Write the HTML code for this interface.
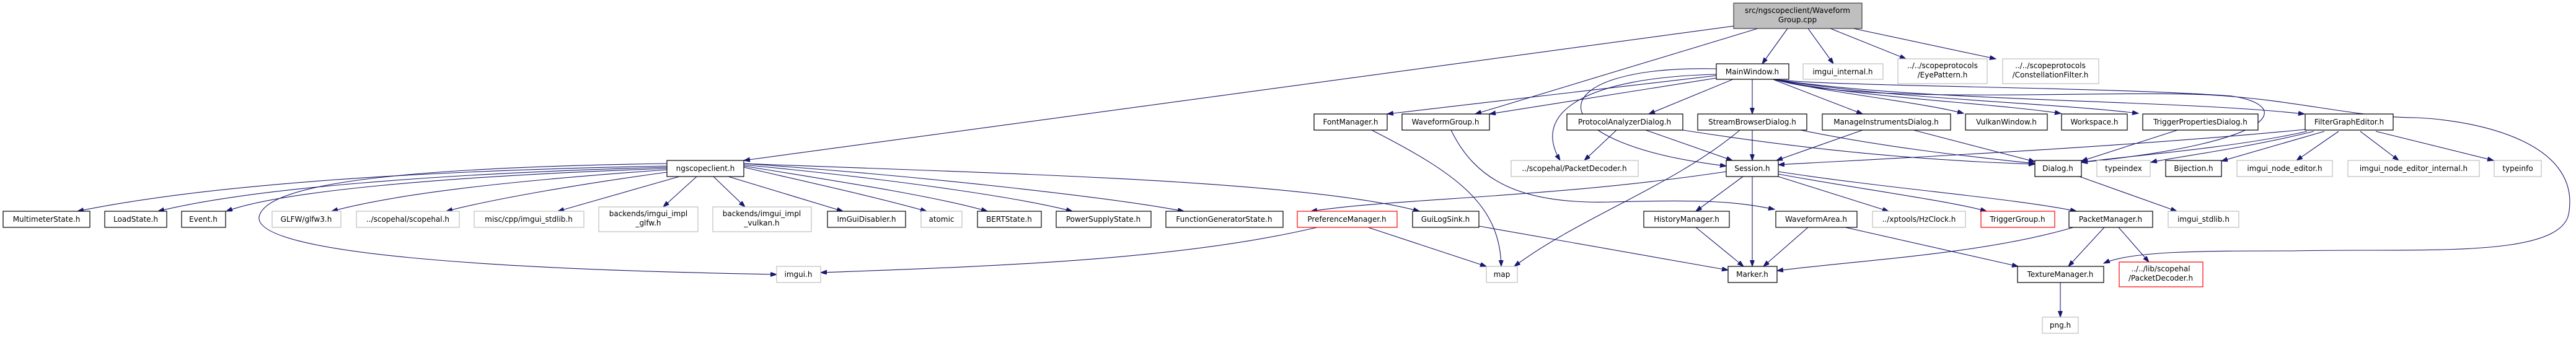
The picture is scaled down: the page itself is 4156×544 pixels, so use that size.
<!DOCTYPE html>
<html><head><meta charset="utf-8"><style>
html,body{margin:0;padding:0;background:#fff;}
svg{display:block;}
text{font-family:"DejaVu Sans","Liberation Sans",sans-serif;font-size:12px;fill:#000;text-anchor:middle;}
.n rect{fill:#fff;stroke:#000;stroke-width:1.2;}
.g rect{fill:#fff;stroke:#bfbfbf;stroke-width:1.2;}
.r rect{fill:#fff;stroke:#ff0000;stroke-width:1.2;}
.e path{fill:none;stroke:#191970;stroke-width:1.1;marker-end:url(#a);}
</style></head><body>
<svg width="4156" height="544" viewBox="0 0 4156 544" xmlns="http://www.w3.org/2000/svg">
<defs><marker id="a" markerUnits="userSpaceOnUse" markerWidth="11" markerHeight="8" refX="10" refY="3.5" orient="auto"><path d="M0,0 L10,3.5 L0,7 z" fill="#191970" stroke="#191970"/></marker></defs>
<g class="e">
<path d="M2797,42 L1200,259"/>
<path d="M2836,46 L2380,184"/>
<path d="M2884,46 L2843,103"/>
<path d="M2917,46 L2958,103"/>
<path d="M2953,46 L3075,95"/>
<path d="M2990,46 L3220,95"/>
<path d="M2769,122 L2238,184"/>
<path d="M2769,126 L2403,184"/>
<path d="M2769,120 C2560,125 2470,180 2517,259"/>
<path d="M2769,111 C2480,105 2470,230 2785,268"/>
<path d="M2796,128 L2660,184"/>
<path d="M2827,128 L2827,184"/>
<path d="M2860,128 L3005,184"/>
<path d="M2862,128 C2950,150 3100,165 3168,183"/>
<path d="M2862,128 C3000,158 3200,165 3325,183"/>
<path d="M2862,128 C3050,160 3300,165 3450,183"/>
<path d="M2862,128 C3100,165 3500,160 3718,184"/>
<path d="M2862,128 C2950,140 3400,140 3600,155 C3700,170 3680,230 3358,262"/>
<path d="M2862,128 C3000,170 3400,145 3560,153 C3700,160 3800,190 3900,190 C4000,195 4160,230 4145,340 C4140,420 3900,400 3700,405 C3550,405 3440,405 3394,425"/>
<path d="M1076,268 C700,275 350,295 125,341"/>
<path d="M1076,270 C700,280 400,305 255,341"/>
<path d="M1076,272 C700,285 450,310 365,341"/>
<path d="M1076,274 C850,290 650,310 535,341"/>
<path d="M1076,278 C950,295 800,320 720,341"/>
<path d="M1096,285 L900,341"/>
<path d="M1124,285 L1070,334"/>
<path d="M1151,285 L1202,334"/>
<path d="M1175,285 L1360,341"/>
<path d="M1200,270 C1330,300 1420,320 1495,341"/>
<path d="M1200,268 C1400,300 1520,320 1593,341"/>
<path d="M1200,266 C1450,290 1650,320 1730,341"/>
<path d="M1200,264 C1500,285 1800,320 1910,341"/>
<path d="M1200,264 C1600,280 2100,290 2290,341"/>
<path d="M1076,264 C700,270 430,290 418,350 C410,410 800,435 1253,443"/>
<path d="M2125,367 C1900,420 1600,430 1324,440"/>
<path d="M2785,277 C2500,320 2250,320 2115,341"/>
<path d="M2812,285 L2736,341"/>
<path d="M2827,285 L2827,430"/>
<path d="M2869,285 L3047,341"/>
<path d="M2869,281 C3000,305 3150,325 3205,341"/>
<path d="M2869,277 C3050,305 3250,320 3350,341"/>
<path d="M2341,210 C2380,290 2450,330 2600,326 C2750,322 2800,325 2863,338"/>
<path d="M2213,210 C2350,280 2420,330 2422,430"/>
<path d="M2207,367 L2398,430"/>
<path d="M2807,210 C2700,300 2550,350 2443,430"/>
<path d="M2386,365 L2788,436"/>
<path d="M2736,367 L2813,430"/>
<path d="M2917,367 L2845,430"/>
<path d="M3345,367 C3200,410 3000,420 2867,437"/>
<path d="M2977,367 L3256,430"/>
<path d="M3395,367 L3337,430"/>
<path d="M3418,367 L3467,423"/>
<path d="M3324,456 L3324,512"/>
<path d="M2608,210 L2556,259"/>
<path d="M2655,210 L2795,259"/>
<path d="M2715,210 C3000,255 3200,262 3283,265"/>
<path d="M2827,210 L2827,259"/>
<path d="M2905,210 C3050,240 3200,255 3283,264"/>
<path d="M3005,210 L2866,259"/>
<path d="M3087,210 L3283,261"/>
<path d="M3513,210 L3358,260"/>
<path d="M3719,209 C3400,240 3000,258 2869,266"/>
<path d="M3722,212 C3600,240 3400,255 3358,262"/>
<path d="M3733,212 C3620,240 3500,255 3470,262"/>
<path d="M3750,212 L3584,260"/>
<path d="M3773,212 L3705,259"/>
<path d="M3808,212 L3870,259"/>
<path d="M3833,212 L4023,259"/>
<path d="M3355,285 L3512,341"/>
</g>
<g>
<rect x="2797" y="5" width="207" height="41" fill="#bfbfbf" stroke="#404040" stroke-width="1.2"/>
<text x="2900" y="21">src/ngscopeclient/Waveform</text><text x="2900" y="36">Group.cpp</text>
</g>
<g class="n">
<rect x="2769" y="103" width="117" height="25"/><text x="2827" y="120">MainWindow.h</text>
<rect x="1076" y="259" width="124" height="26"/><text x="1138" y="276">ngscopeclient.h</text>
<rect x="2120" y="184" width="118" height="26"/><text x="2179" y="201">FontManager.h</text>
<rect x="2262" y="184" width="141" height="26"/><text x="2332" y="201">WaveformGroup.h</text>
<rect x="2528" y="184" width="187" height="26"/><text x="2621" y="201">ProtocolAnalyzerDialog.h</text>
<rect x="2739" y="184" width="176" height="26"/><text x="2827" y="201">StreamBrowserDialog.h</text>
<rect x="2940" y="184" width="207" height="26"/><text x="3043" y="201">ManageInstrumentsDialog.h</text>
<rect x="3171" y="184" width="132" height="26"/><text x="3237" y="201">VulkanWindow.h</text>
<rect x="3326" y="184" width="106" height="26"/><text x="3379" y="201">Workspace.h</text>
<rect x="3457" y="184" width="186" height="26"/><text x="3550" y="201">TriggerPropertiesDialog.h</text>
<rect x="3719" y="184" width="142" height="26"/><text x="3790" y="201">FilterGraphEditor.h</text>
<rect x="2785" y="259" width="84" height="26"/><text x="2827" y="276">Session.h</text>
<rect x="3283" y="259" width="75" height="26"/><text x="3320" y="276">Dialog.h</text>
<rect x="3494" y="259" width="90" height="26"/><text x="3539" y="276">Bijection.h</text>
<rect x="5" y="341" width="140" height="26"/><text x="75" y="358">MultimeterState.h</text>
<rect x="169" y="341" width="100" height="26"/><text x="219" y="358">LoadState.h</text>
<rect x="293" y="341" width="71" height="26"/><text x="328" y="358">Event.h</text>
<rect x="1335" y="341" width="126" height="26"/><text x="1398" y="358">ImGuiDisabler.h</text>
<rect x="1577" y="341" width="103" height="26"/><text x="1628" y="358">BERTState.h</text>
<rect x="1704" y="341" width="153" height="26"/><text x="1780" y="358">PowerSupplyState.h</text>
<rect x="1881" y="341" width="189" height="26"/><text x="1975" y="358">FunctionGeneratorState.h</text>
<rect x="2279" y="341" width="107" height="26"/><text x="2332" y="358">GuiLogSink.h</text>
<rect x="2652" y="341" width="138" height="26"/><text x="2721" y="358">HistoryManager.h</text>
<rect x="2865" y="341" width="131" height="26"/><text x="2930" y="358">WaveformArea.h</text>
<rect x="3338" y="341" width="135" height="26"/><text x="3405" y="358">PacketManager.h</text>
<rect x="2788" y="430" width="79" height="26"/><text x="2827" y="447">Marker.h</text>
<rect x="3255" y="430" width="139" height="26"/><text x="3324" y="447">TextureManager.h</text>
</g>
<g class="r">
<rect x="2093" y="341" width="161" height="26"/><text x="2173" y="358">PreferenceManager.h</text>
<rect x="3196" y="341" width="119" height="26"/><text x="3255" y="358">TriggerGroup.h</text>
<rect x="3419" y="423" width="135" height="40"/><text x="3486" y="438">../../lib/scopehal</text><text x="3486" y="453">/PacketDecoder.h</text>
</g>
<g class="g">
<rect x="2909" y="103" width="129" height="25"/><text x="2973" y="120">imgui_internal.h</text>
<rect x="3062" y="95" width="144" height="40"/><text x="3134" y="110">../../scopeprotocols</text><text x="3134" y="125">/EyePattern.h</text>
<rect x="3231" y="95" width="155" height="40"/><text x="3308" y="110">../../scopeprotocols</text><text x="3308" y="125">/ConstellationFilter.h</text>
<rect x="2438" y="259" width="205" height="26"/><text x="2540" y="276">../scopehal/PacketDecoder.h</text>
<rect x="3383" y="259" width="86" height="26"/><text x="3426" y="276">typeindex</text>
<rect x="3609" y="259" width="154" height="26"/><text x="3686" y="276">imgui_node_editor.h</text>
<rect x="3788" y="259" width="212" height="26"/><text x="3894" y="276">imgui_node_editor_internal.h</text>
<rect x="4024" y="259" width="76" height="26"/><text x="4062" y="276">typeinfo</text>
<rect x="439" y="341" width="111" height="26"/><text x="494" y="358">GLFW/glfw3.h</text>
<rect x="575" y="341" width="166" height="26"/><text x="658" y="358">../scopehal/scopehal.h</text>
<rect x="765" y="341" width="177" height="26"/><text x="853" y="358">misc/cpp/imgui_stdlib.h</text>
<rect x="966" y="334" width="160" height="40"/><text x="1046" y="349">backends/imgui_impl</text><text x="1046" y="364">_glfw.h</text>
<rect x="1150" y="334" width="159" height="40"/><text x="1229" y="349">backends/imgui_impl</text><text x="1229" y="364">_vulkan.h</text>
<rect x="1486" y="341" width="66" height="26"/><text x="1519" y="358">atomic</text>
<rect x="3021" y="341" width="150" height="26"/><text x="3096" y="358">../xptools/HzClock.h</text>
<rect x="3498" y="341" width="114" height="26"/><text x="3555" y="358">imgui_stdlib.h</text>
<rect x="1253" y="430" width="71" height="26"/><text x="1288" y="447">imgui.h</text>
<rect x="2398" y="430" width="50" height="26"/><text x="2423" y="447">map</text>
<rect x="3295" y="512" width="58" height="26"/><text x="3324" y="529">png.h</text>
</g>
</svg>
</body></html>
